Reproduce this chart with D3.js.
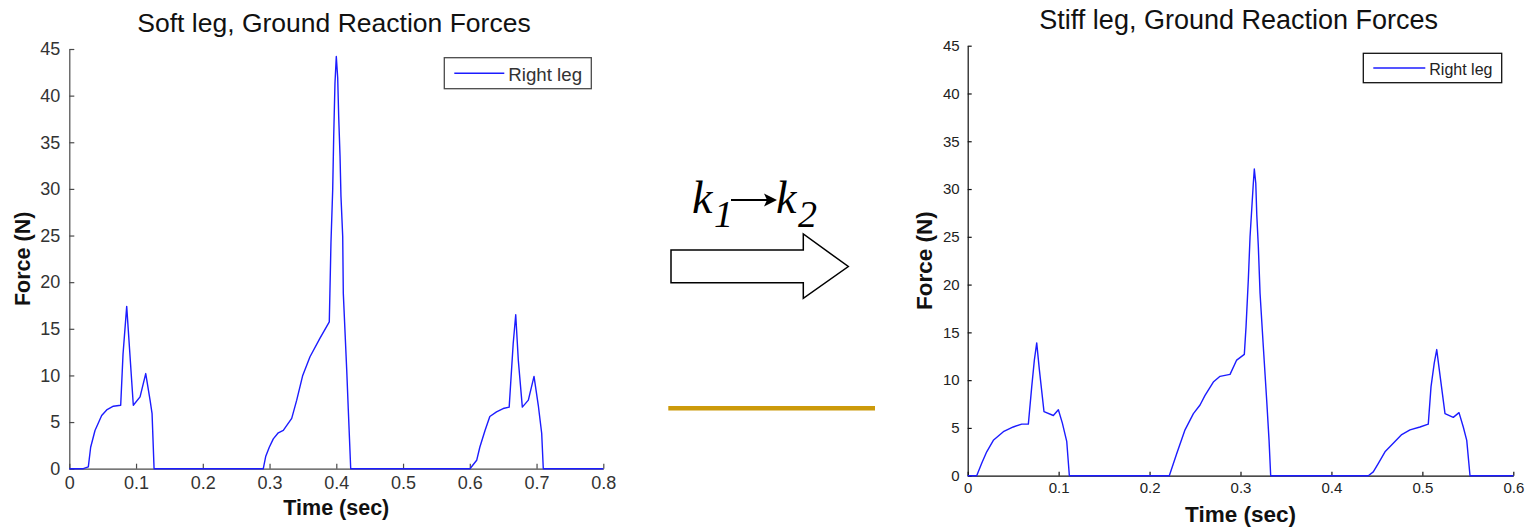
<!DOCTYPE html>
<html>
<head>
<meta charset="utf-8">
<script src="https://cdn.jsdelivr.net/npm/d3@7"></script>
<style>
  html, body { margin: 0; padding: 0; background: #fff; }
  svg { display: block; }
  text { font-family: "Liberation Sans", Arial, Helvetica, sans-serif; }
</style>
</head>
<body>
<svg id="fig" width="1530" height="527"></svg>
<script>
// Ground reaction force, right leg, soft-leg gait (time in s, force in N)
const softTime = [0, 0.021, 0.0285, 0.032, 0.0385, 0.0485, 0.056, 0.066, 0.077, 0.0805,
  0.086, 0.0959, 0.106, 0.1145, 0.121, 0.124, 0.127,
  0.2906, 0.2942, 0.2996, 0.3056, 0.3131, 0.3206, 0.3332, 0.3407, 0.3497, 0.3606,
  0.3756, 0.3895, 0.392, 0.3946, 0.3961, 0.398, 0.4, 0.4021, 0.4036, 0.4056, 0.407,
  0.4096, 0.4105, 0.4156, 0.418, 0.4216,
  0.6003, 0.6103, 0.615, 0.6228, 0.63, 0.64, 0.65, 0.659, 0.665, 0.6688, 0.6727,
  0.6787, 0.6877, 0.6962, 0.7026, 0.7077, 0.7101, 0.8];
const softForce = [0, 0, 0.2, 2.3, 4.1, 5.7, 6.3, 6.7, 6.8, 12.3,
  17.4, 6.8, 7.7, 10.2, 7.35, 5.9, 0,
  0, 1.3, 2.3, 3.2, 3.85, 4.1, 5.4, 7.35, 10.0, 12.0,
  14.0, 15.75, 24.2, 29.9, 35.6, 41.3, 44.2, 41.9, 37.7, 33.5, 29.2,
  24.9, 18.8, 10.6, 6.3, 0,
  0, 0.9, 2.3, 4.1, 5.6, 6.1, 6.45, 6.6, 13.4, 16.5, 11.6,
  6.6, 7.35, 9.9, 6.8, 3.8, 0, 0];

// Ground reaction force, right leg, stiff-leg gait
const stiffTime = [0, 0.0099, 0.0154, 0.0209, 0.0282, 0.0392, 0.0501, 0.0594, 0.0667,
  0.0704, 0.0733, 0.0759, 0.0788, 0.0839, 0.0942, 0.0997, 0.1041, 0.1089, 0.1118,
  0.2217, 0.2298, 0.239, 0.2482, 0.2555, 0.261, 0.2701, 0.2775, 0.2885, 0.2958,
  0.3042, 0.3061, 0.3086, 0.3105, 0.3123, 0.3141, 0.3152, 0.3168, 0.3179, 0.3196,
  0.3215, 0.3251, 0.3288, 0.3314, 0.3332,
  0.4406, 0.446, 0.4516, 0.4589, 0.468, 0.4773, 0.4864, 0.4974, 0.5065, 0.5095,
  0.5131, 0.5158, 0.5186, 0.5249, 0.534, 0.5403, 0.545, 0.5488, 0.5524, 0.6];
const stiffForce = [0, 0, 1.3, 2.5, 3.7, 4.6, 5.1, 5.4, 5.4,
  9.3, 12.1, 13.9, 11.1, 6.7, 6.3, 6.9, 5.5, 3.6, 0,
  0, 2.3, 4.8, 6.5, 7.4, 8.4, 9.8, 10.4, 10.6, 12.1,
  12.7, 15.6, 20.5, 25.0, 27.8, 30.6, 32.1, 30.6, 27.3, 24.0,
  19.1, 13.5, 7.9, 3.7, 0,
  0, 0.4, 1.3, 2.5, 3.4, 4.3, 4.8, 5.1, 5.4, 9.3,
  11.8, 13.2, 11.1, 6.5, 6.1, 6.6, 5.1, 3.7, 0, 0];

const forceTicks = [0, 5, 10, 15, 20, 25, 30, 35, 40, 45];
const softTimeTicks = [0, 0.1, 0.2, 0.3, 0.4, 0.5, 0.6, 0.7, 0.8];
const stiffTimeTicks = [0, 0.1, 0.2, 0.3, 0.4, 0.5, 0.6];
const titles = ["Soft leg, Ground Reaction Forces", "Stiff leg, Ground Reaction Forces"];
const legendLabel = "Right leg";

const svg = d3.select("#fig");

function drawPanel(cfg) {
  const x = d3.scaleLinear().domain([0, cfg.xMax]).range([cfg.x0, cfg.x1]);
  const y = d3.scaleLinear().domain([0, 45]).range([cfg.y0, cfg.y1]);
  const g = svg.append("g");

  // axes: ticks point inward, no box
  const xAxis = d3.axisBottom(x).tickValues(cfg.xTicks).tickSizeInner(-cfg.tick)
    .tickSizeOuter(0).tickPadding(cfg.tick + 3).tickFormat(d3.format("~g"));
  const yAxis = d3.axisLeft(y).tickValues(forceTicks).tickSizeInner(-cfg.tick)
    .tickSizeOuter(0).tickPadding(cfg.tick + 4).tickFormat(d3.format("d"));

  const gx = g.append("g").attr("transform", `translate(0,${cfg.y0})`).call(xAxis);
  const gy = g.append("g").attr("transform", `translate(${cfg.x0},0)`).call(yAxis);
  [gx, gy].forEach(a => {
    a.select(".domain").attr("stroke", cfg.axisColor).attr("stroke-width", 1.2);
    a.selectAll(".tick line").attr("stroke", cfg.axisColor).attr("stroke-width", 1.2);
    a.selectAll(".tick text").attr("fill", cfg.textColor)
      .style("font-size", cfg.tickFont + "px")
      .style("font-family", "\"Liberation Sans\", Arial, sans-serif");
  });

  // force trace
  const pts = cfg.t.map((t, i) => [t, cfg.f[i]]);
  const line = d3.line().x(d => x(d[0])).y(d => y(d[1]));
  g.append("path").datum(pts).attr("d", line)
    .attr("fill", "none").attr("stroke", "#1c1cff").attr("stroke-width", 1.4)
    .attr("stroke-linejoin", "round");

  // title and axis labels
  g.append("text").attr("x", cfg.titleX).attr("y", cfg.titleY)
    .attr("text-anchor", "middle").style("font-size", cfg.titleFont + "px")
    .attr("fill", "#111").text(cfg.title);
  g.append("text").attr("x", (cfg.x0 + cfg.x1) / 2).attr("y", cfg.xLabelY)
    .attr("text-anchor", "middle").style("font-size", cfg.labelFont + "px")
    .style("font-weight", "bold").attr("fill", "#111").text("Time (sec)");
  g.append("text")
    .attr("transform", `translate(${cfg.yLabelX},${(cfg.y0 + cfg.y1) / 2}) rotate(-90)`)
    .attr("text-anchor", "middle").style("font-size", cfg.labelFont + "px")
    .style("font-weight", "bold").attr("fill", "#111").text("Force (N)");

  // legend
  const L = cfg.legend;
  g.append("rect").attr("x", L.x).attr("y", L.y).attr("width", L.w).attr("height", L.h)
    .attr("fill", "#fff").attr("stroke", cfg.axisColor).attr("stroke-width", 1.3);
  g.append("line").attr("x1", L.x + L.l0).attr("x2", L.x + L.l1)
    .attr("y1", L.y + L.h / 2).attr("y2", L.y + L.h / 2)
    .attr("stroke", "#1c1cff").attr("stroke-width", 1.4);
  g.append("text").attr("x", L.x + L.tx).attr("y", L.y + L.ty)
    .style("font-size", L.font + "px").attr("fill", cfg.textColor).text(legendLabel);
}

drawPanel({
  t: softTime, f: softForce, xMax: 0.8, xTicks: softTimeTicks,
  x0: 69.3, x1: 603.3, y0: 468.7, y1: 49, tick: 5,
  axisColor: "#4a4a4a", textColor: "#333",
  tickFont: 18, titleFont: 26.5, labelFont: 21.5,
  title: titles[0], titleX: 334, titleY: 32, xLabelY: 515, yLabelX: 30,
  legend: { x: 444.3, y: 57.7, w: 147, h: 31, l0: 10, l1: 60, tx: 64, ty: 23.5, font: 18.7 }
});

drawPanel({
  t: stiffTime, f: stiffForce, xMax: 0.6, xTicks: stiffTimeTicks,
  x0: 967.7, x1: 1513.3, y0: 475.7, y1: 45.7, tick: 4,
  axisColor: "#111", textColor: "#222",
  tickFont: 15, titleFont: 27, labelFont: 22.5,
  title: titles[1], titleX: 1238.7, titleY: 29, xLabelY: 522, yLabelX: 932,
  legend: { x: 1363.3, y: 53.3, w: 138.4, h: 29.4, l0: 10, l1: 62, tx: 66, ty: 21.5, font: 16 }
});

// centre: stiffness change k1 -> k2 and block arrow
const mid = svg.append("g");
const serif = "\"Liberation Serif\", \"Times New Roman\", serif";
mid.append("text").attr("x", 692).attr("y", 213).style("font-family", serif)
  .style("font-style", "italic").style("font-size", "46px").attr("fill", "#000").text("k");
mid.append("text").attr("x", 714).attr("y", 226.5).style("font-family", serif)
  .style("font-style", "italic").style("font-size", "38px").attr("fill", "#000").text("1");
mid.append("text").attr("x", 776).attr("y", 213).style("font-family", serif)
  .style("font-style", "italic").style("font-size", "46px").attr("fill", "#000").text("k");
mid.append("text").attr("x", 798).attr("y", 227).style("font-family", serif)
  .style("font-style", "italic").style("font-size", "38px").attr("fill", "#000").text("2");
// small arrow between k1 and k2
mid.append("line").attr("x1", 731).attr("x2", 770).attr("y1", 200).attr("y2", 200)
  .attr("stroke", "#000").attr("stroke-width", 2.2);
mid.append("path").attr("d", "M777,200 L764,193.5 L767,200 L764,206.5 Z").attr("fill", "#000");

// block arrow
mid.append("path")
  .attr("d", "M671,250 L803.3,250 L803.3,234 L848.3,266.5 L803.3,298.3 L803.3,282.7 L671,282.7 Z")
  .attr("fill", "#fff").attr("stroke", "#000").attr("stroke-width", 1.5)
  .attr("stroke-linejoin", "miter");

// gold rule
mid.append("line").attr("x1", 668.3).attr("x2", 875).attr("y1", 408.3).attr("y2", 408.3)
  .attr("stroke", "#cc9a0a").attr("stroke-width", 4.5);
</script>
</body>
</html>
